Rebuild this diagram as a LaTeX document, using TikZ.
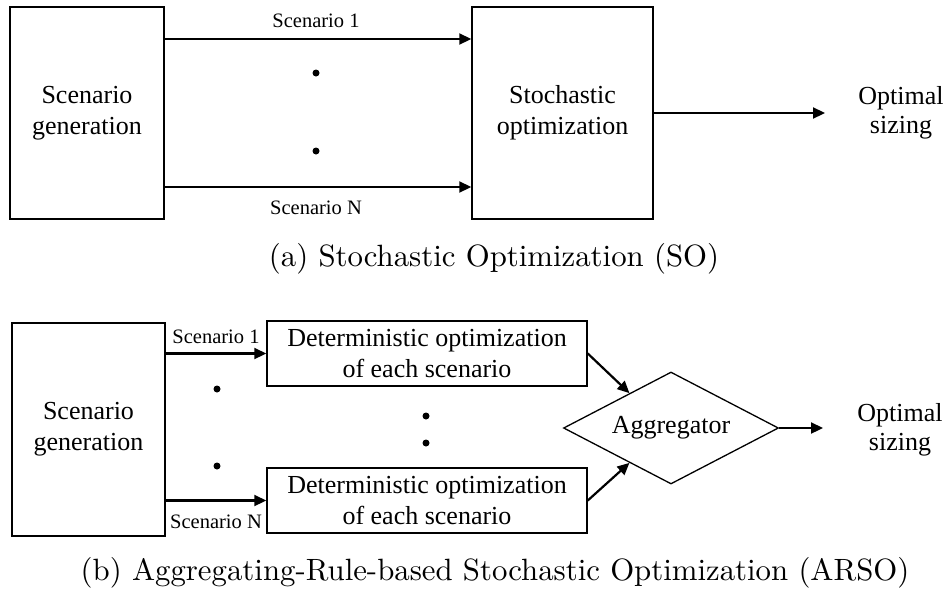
\documentclass[tikz,border=0pt]{standalone}
\usepackage{fontspec}
\usepackage{graphicx}
\newfontfamily\tnr{Liberation Serif}
\usetikzlibrary{arrows.meta,shapes.geometric}
\begin{document}
\begin{tikzpicture}[x=1pt,y=-1pt,
  blk/.style={draw,line width=1.5pt,inner sep=0pt},
  lbl/.style={font=\tnr\fontsize{26}{31}\selectfont,align=center},
  small/.style={font=\tnr\fontsize{20.5}{24}\selectfont,inner sep=0pt},
  conn/.style={line width=2.2pt,-{Triangle[length=12pt,width=11pt]}},
  dotmark/.style={circle,fill,inner sep=0pt,minimum size=7pt},
  captext/.style={inner sep=0pt},
]
\useasboundingbox (0,0) rectangle (947,592);

% (a) stochastic optimization
\node[blk,lbl,minimum width=154pt,minimum height=212pt] (sg) at (87,113) {Scenario\\generation};
\node[blk,lbl,minimum width=181pt,minimum height=212pt] (so) at (562.5,113) {Stochastic\\optimization};
\draw[conn] ([yshift=74pt]sg.east) -- ([yshift=74pt]so.west);
\draw[conn] ([yshift=-74pt]sg.east) -- ([yshift=-74pt]so.west);
\node[small] (s1a) at (316,21) {Scenario 1};
\node[small] (sna) at (316,208) {Scenario N};
\node[dotmark] (da1) at (316,73) {};
\node[dotmark] (da2) at (316,151) {};
\coordinate (oa) at (825,113);
\draw[conn] (so.east) -- (oa);
\node[lbl,inner sep=0pt,font=\tnr\fontsize{26}{29}\selectfont] (opta) at (901,113) {Optimal\\sizing};
\node[captext] (capa) at (494,259) {\scalebox{3.08}{(a) Stochastic Optimization (SO)}};

% (b) aggregating-rule-based stochastic optimization
\node[blk,lbl,minimum width=153pt,minimum height=213pt] (sg2) at (88.5,429.5) {Scenario\\generation};
\node[blk,lbl,minimum width=320pt,minimum height=65pt] (det1) at (427,353.5) {Deterministic optimization\\of each scenario};
\node[blk,lbl,minimum width=320pt,minimum height=65pt] (det2) at (427,500.5) {Deterministic optimization\\of each scenario};
\draw[conn] (sg2.east |- det1.west) -- (det1.west);
\draw[conn] (sg2.east |- det2.west) -- (det2.west);
\node[small] (s1b) at (216,337) {Scenario 1};
\node[small] (snb) at (216,522) {Scenario N};
\node[dotmark] (db1) at (217,389) {};
\node[dotmark] (db2) at (217,466) {};
\node[dotmark] (db3) at (426,416) {};
\node[dotmark] (db4) at (426,443) {};
\node[draw,diamond,aspect=1.92,line width=1.3pt,lbl,minimum width=215pt,minimum height=112pt,inner sep=0pt] (agg) at (671,428) {Aggregator};
\draw[conn] (det1.east) -- (agg.140);
\draw[conn] (det2.east) -- (agg.220);
\coordinate (ob) at (823,428);
\draw[conn] (agg.east) -- (ob);
\node[lbl,inner sep=0pt,font=\tnr\fontsize{26}{29}\selectfont] (optb) at (900,430) {Optimal\\sizing};
\node[captext] (capb) at (495,573) {\scalebox{3.08}{(b) Aggregating-Rule-based Stochastic Optimization (ARSO)}};
\end{tikzpicture}
\end{document}
